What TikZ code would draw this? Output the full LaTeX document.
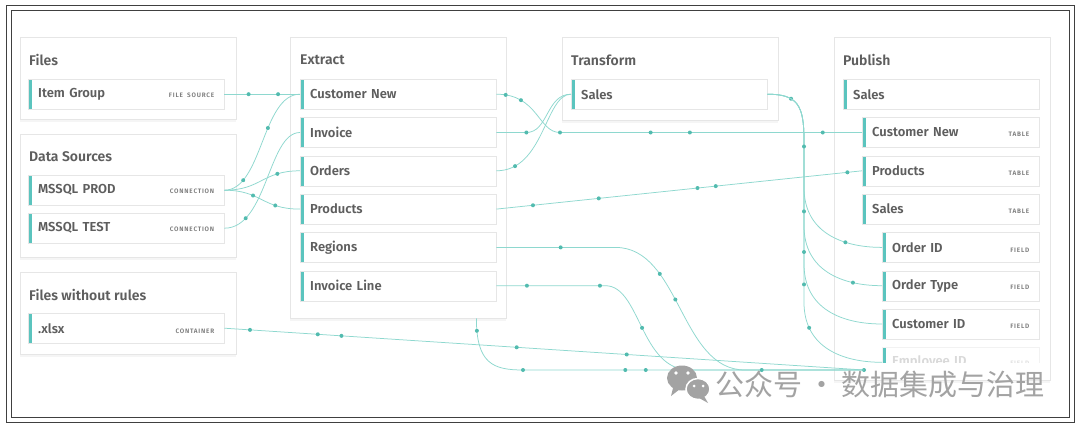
\documentclass[tikz,border=0pt]{standalone}
\usepackage{fontspec}
\setmainfont{Fira Sans}[BoldFont={Fira Sans SemiBold}]
\newfontfamily\tagfont{Fira Sans}[LetterSpace=12, BoldFont={Fira Sans SemiBold}]
\newfontfamily\cjkfont{Noto Sans CJK SC}
\usepackage{xcolor}
\usepackage{tikz}
\usetikzlibrary{positioning, shadows}

\definecolor{txt}{HTML}{5E5E5E}
\definecolor{tagc}{HTML}{7A7A7A}
\definecolor{accent}{HTML}{5BC4BE}
\definecolor{linkc}{HTML}{8ED8CF}
\definecolor{dotc}{HTML}{52BBAF}
\definecolor{edge}{HTML}{E6E6E6}
\definecolor{wmark}{HTML}{A3A3A3}

\newcommand{\tagtxt}[1]{{\tagfont\bfseries\fontsize{6.4}{7}\selectfont\color{tagc}#1}}

\begin{document}
\begin{tikzpicture}[
    x=1pt, y=-1pt,
    card/.style={rectangle, draw=edge, fill=white, anchor=north west, minimum width=216pt, inner sep=0pt, drop shadow={opacity=0.08, shadow xshift=0pt, shadow yshift=-2.5pt}},
    cardtitle/.style={anchor=west, inner sep=0pt, text=txt, font=\fontsize{14}{16}\selectfont\bfseries},
    rowbox/.style={rectangle, draw=edge, fill=white, minimum height=30pt, inner xsep=10pt, inner ysep=0pt, text=txt, font=\fontsize{13}{15}\selectfont\bfseries, path picture={\fill[accent] (path picture bounding box.north west) rectangle ([xshift=3.5pt]path picture bounding box.south west);}},
    rowwide/.style={rowbox, text width=176pt},
    rowmid/.style={rowbox, text width=157pt},
    rownarrow/.style={rowbox, text width=137pt},
    link/.style={draw=linkc, line width=0.75pt},
    dot/.style={circle, fill=dotc, inner sep=0pt, minimum size=4pt},
]
\useasboundingbox (0,0) rectangle (1080,428);
\fill[white] (0,0) rectangle (1080,428);
\draw[line width=0.8pt, black!75] (6,5) rectangle (1074,422);
\draw[line width=0.8pt, black!75] (11,10) rectangle (1069,417);

% cards
\node[card, minimum height=82pt] (files) at (20,37) {};
\node[card, minimum height=123pt] (dsrc) at (20,134) {};
\node[card, minimum height=82pt] (norules) at (20,272) {};
\node[card, minimum height=281pt] (ext) at (290,37) {};
\node[card, minimum height=83pt] (trf) at (562,37) {};
\node[card, minimum height=343pt] (pub) at (834,37) {};

\node[cardtitle] (tfiles) at ([xshift=9pt, yshift=-23pt]files.north west) {Files};
\node[cardtitle] (tdsrc) at ([xshift=9pt, yshift=-23pt]dsrc.north west) {Data Sources};
\node[cardtitle] (tnorules) at ([xshift=9pt, yshift=-23pt]norules.north west) {Files without rules};
\node[cardtitle] (text) at ([xshift=10pt, yshift=-23pt]ext.north west) {Extract};
\node[cardtitle] (ttrf) at ([xshift=9pt, yshift=-23pt]trf.north west) {Transform};
\node[cardtitle] (tpub) at ([xshift=9pt, yshift=-23pt]pub.north west) {Publish};

% sources
\node[rowwide, anchor=north west] (ig) at (28,79) {Item Group\hfill\tagtxt{FILE SOURCE}};
\node[rowwide, anchor=north west] (dp) at (28,175) {MSSQL PROD\hfill\tagtxt{CONNECTION}};
\node[rowwide, below=7.6pt of dp] (dt) {MSSQL TEST\hfill\tagtxt{CONNECTION}};
\node[rowwide, anchor=north west] (xl) at (28,313) {.xlsx\hfill\tagtxt{CONTAINER}};

% extract
\node[rowwide, anchor=north west] (ecn) at (300,79) {Customer New};
\node[rowwide, below=7.9pt of ecn] (einv) {Invoice};
\node[rowwide, below=7.9pt of einv] (eord) {Orders};
\node[rowwide, below=7.9pt of eord] (eprod) {Products};
\node[rowwide, below=7.9pt of eprod] (ereg) {Regions};
\node[rowwide, below=7.9pt of ereg] (eil) {Invoice Line};

% transform
\node[rowwide, anchor=north west] (tsal) at (571,79) {Sales};

% publish
\node[rowwide, anchor=north west] (psal) at (843,79) {Sales};
\node[rowmid, below=7.9pt of psal.south east, anchor=north east] (pcn) {Customer New\hfill\tagtxt{TABLE}};
\node[rowmid, below=7.9pt of pcn] (pprod) {Products\hfill\tagtxt{TABLE}};
\node[rowmid, below=7.9pt of pprod] (psales) {Sales\hfill\tagtxt{TABLE}};
\node[rownarrow, below=7.9pt of psales.south east, anchor=north east] (poid) {Order ID\hfill\tagtxt{FIELD}};
\node[rownarrow, below=7.9pt of poid] (potype) {Order Type\hfill\tagtxt{FIELD}};
\node[rownarrow, below=7.9pt of potype] (pcid) {Customer ID\hfill\tagtxt{FIELD}};
\begin{scope}
\clip (834,340) rectangle (1050,362);
\node[rownarrow, below=7.9pt of pcid, draw=edge!50, text=gray!30] (peid) {\colorlet{tagc}{gray!25}Employee ID\hfill\tagtxt{FIELD}};
\end{scope}

\coordinate (trunk) at (804,140);
\coordinate (sink) at (864,370);

% sources -> extract
\draw[link] (ig.east) -- node[dot, pos=0.32] {} node[dot, pos=0.71] {} (ecn.west);
\draw[link] (dp.east) .. controls +(38,0) and +(-38,0) .. node[dot, pos=0.2] {} node[dot, pos=0.6] {} (ecn.west);
\draw[link] (dt.east) .. controls +(43,0) and +(-32,0) .. node[dot, pos=0.2] {} (einv.west);
\draw[link] (dp.east) .. controls +(37,0) and +(-38,0) .. node[dot, pos=0.75] {} (eord.west);
\draw[link] (dp.east) .. controls +(37,0) and +(-38,0) .. node[dot, pos=0.35] {} node[dot, pos=0.72] {} (eprod.west);

% extract -> transform / publish
\draw[link] (ecn.east) .. controls +(42,0) and +(-22,0) .. node[dot, pos=0.08] {} node[dot, pos=0.25] {} ([xshift=-302pt]pcn.west)
    -- node[dot, pos=0] {} node[dot, pos=0.3] {} node[dot, pos=0.43] {} node[dot, pos=0.87] {} (pcn.west);
\draw[link] (einv.east) -- node[dot, pos=1] {} ++(30,0) .. controls +(22,0) and +(-25,0) .. (tsal.west);
\draw[link] (eord.east) .. controls +(48,0) and +(-26,0) .. node[dot, pos=0.15] {} (tsal.west);
\draw[link] (eprod.east) -- node[dot, pos=0.1] {} node[dot, pos=0.28] {} node[dot, pos=0.55] {} node[dot, pos=0.6] {} node[dot, pos=0.96] {} (pprod.west);

% transform -> fields
\draw[link] (tsal.east) .. controls +(30,0) and +(0,-35) .. node[dot, pos=0.35] {} (trunk)
    -- ([yshift=60pt]trunk |- poid.west) .. controls +(0,45) and +(-40,0) .. node[dot, pos=0.68] {} (poid.west);
\draw[link] (tsal.east) .. controls +(30,0) and +(0,-35) .. (trunk)
    -- ([yshift=60pt]trunk |- potype.west) .. controls +(0,45) and +(-40,0) .. node[dot, pos=0.75] {} (potype.west);
\draw[link] (tsal.east) .. controls +(30,0) and +(0,-35) .. (trunk)
    -- ([yshift=60pt]trunk |- pcid.west) .. controls +(0,45) and +(-40,0) .. (pcid.west);
\draw[link] (tsal.east) .. controls +(30,0) and +(0,-35) .. (trunk)
    -- node[dot, pos=0.04] {} node[dot, pos=0.44] {} node[dot, pos=0.69] {} node[dot, pos=0.89] {} ([yshift=60pt]trunk |- peid.west)
    .. controls +(0,45) and +(-40,0) .. node[dot, pos=0.22] {} (peid.west);

% lower lines
\draw[link] (ereg.east) -- node[dot, pos=0.54] {} ++(119,0) .. controls +(65,0) and +(-65,0) .. node[dot, pos=0.3] {} node[dot, pos=0.45] {} ([xshift=-119pt]sink) -- (sink);
\draw[link] (eil.east) -- node[dot, pos=0.28] {} node[dot, pos=0.95] {} ++(109,0) .. controls +(35,0) and +(-50,0) .. node[dot, pos=0.5] {} ([xshift=-174pt]sink) -- (sink);
\draw[link] ([xshift=-30pt]ext.south east) .. controls +(0,45) and +(-30,0) .. node[dot, pos=0.1] {} ([xshift=-341pt]sink)
    -- node[dot, pos=0] {} node[dot, pos=0.3] {} node[dot, pos=0.36] {} node[dot, pos=0.7] {} node[dot, pos=1] {} (sink);
\draw[link] (xl.east) -- node[dot, pos=0.04] {} node[dot, pos=0.146] {} node[dot, pos=0.183] {} node[dot, pos=0.457] {} node[dot, pos=0.629] {} (sink);

% watermark
\fill[wmark] (682,378) ellipse [x radius=15, y radius=12.5];
\fill[wmark] (673,388) -- (671,396) -- (680,389) -- cycle;
\filldraw[fill=wmark, draw=white, line width=1.5pt] (698,389) ellipse [x radius=12, y radius=10.5];
\fill[wmark] (704,396) -- (708,403) -- (699,398) -- cycle;
\fill[white] (676,373) circle [radius=1.8] (688,373) circle [radius=1.8];
\fill[white] (694,386) circle [radius=1.5] (703,386) circle [radius=1.5];
\node[anchor=west, inner sep=0pt, text=wmark, font=\cjkfont\fontsize{29}{31}\selectfont] (wm) at (715,384) {公众号\hspace{5pt}·\hspace{5pt}数据集成与治理};
\end{tikzpicture}
\end{document}
